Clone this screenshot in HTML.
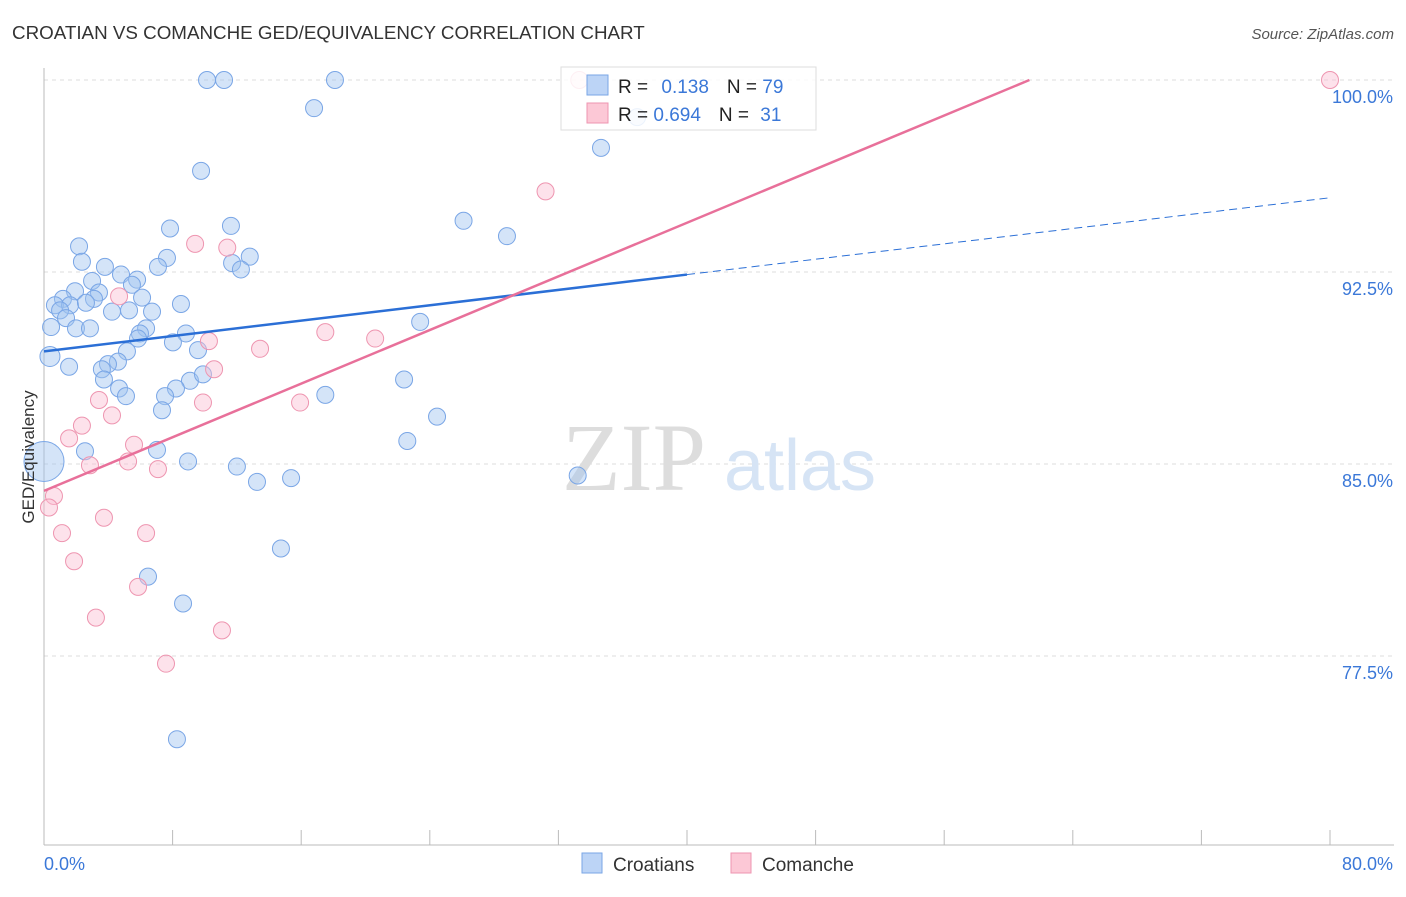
<!DOCTYPE html>
<html><head><meta charset="utf-8"><style>
body{margin:0;background:#fff;font-family:"Liberation Sans",sans-serif}
</style></head><body>
<svg id="c" width="1406" height="892" xmlns="http://www.w3.org/2000/svg">
<text x="12" y="39" font-size="18.8" fill="#333">CROATIAN VS COMANCHE GED/EQUIVALENCY CORRELATION CHART</text>
<text x="1394" y="39" font-size="15" fill="#555" font-style="italic" text-anchor="end">Source: ZipAtlas.com</text>
<g id="grid"></g>
<text x="634" y="490" font-size="96" fill="#ddd" font-family="Liberation Serif" text-anchor="middle">ZIP</text>
<text x="800" y="490" font-size="72" fill="#d6e4f5" text-anchor="middle">atlas</text>
<g id="pts"></g>
<g id="lines"></g>
<text transform="translate(34,457) rotate(-90)" font-size="17" fill="#333" text-anchor="middle">GED/Equivalency</text>
<text x="44" y="870" font-size="18" fill="#3b78d8">0.0%</text>
<text x="1393" y="870" font-size="18" fill="#3b78d8" text-anchor="end">80.0%</text>
<g>
<rect x="561" y="67" width="255" height="63" fill="rgba(255,255,255,0.85)" stroke="#ddd"/>
<rect x="587" y="75" width="21" height="20" fill="#bcd4f6" stroke="#7aa6e6"/>
<rect x="587" y="103" width="21" height="20" fill="#fcc8d6" stroke="#ee95b0"/>
<text x="618" y="93" font-size="19" fill="#222">R = <tspan fill="#3b78d8" dx="8">0.138</tspan><tspan dx="18" fill="#222">N = </tspan><tspan fill="#3b78d8">79</tspan></text>
<text x="618" y="121" font-size="19" fill="#222">R = <tspan fill="#3b78d8">0.694</tspan><tspan dx="18" fill="#222">N = </tspan><tspan fill="#3b78d8" dx="6">31</tspan></text>
</g>
<g>
<rect x="582" y="853" width="20" height="20" fill="#bcd4f6" stroke="#7aa6e6"/>
<text x="613" y="871" font-size="19" fill="#333">Croatians</text>
<rect x="731" y="853" width="20" height="20" fill="#fcc8d6" stroke="#ee95b0"/>
<text x="762" y="871" font-size="19" fill="#333">Comanche</text>
</g>
</svg>
<script>
const blueX=[10.14,11.2,18.1,16.8,34.65,9.77,26.1,28.8,7.84,11.63,2.18,2.36,3.79,4.79,5.79,2.99,7.65,7.09,12.8,11.7,12.25,5.47,1.93,3.42,1.18,3.11,6.1,0.68,1.62,2.61,8.52,1.0,4.23,5.29,6.72,1.37,0.44,1.99,2.86,6.35,5.97,5.85,8.83,8.02,23.4,9.58,5.16,0.37,1.56,4.6,3.98,3.6,3.73,9.08,9.89,8.21,4.67,5.1,7.53,7.34,17.5,22.4,24.45,22.6,2.55,7.03,8.96,0.0,12.0,13.25,15.37,33.2,14.74,6.47,8.65,8.27,36.9];
const blueY=[100,100,100,98.9,97.35,96.45,94.5,93.9,94.2,94.3,93.5,92.9,92.7,92.4,92.2,92.15,93.05,92.7,93.1,92.85,92.6,92.0,91.75,91.7,91.45,91.45,91.5,91.2,91.2,91.3,91.25,91.0,90.95,91.0,90.95,90.7,90.35,90.3,90.3,90.3,90.1,89.9,90.1,89.75,90.55,89.45,89.4,89.2,88.8,89.0,88.9,88.7,88.3,88.25,88.5,87.95,87.95,87.65,87.65,87.1,87.7,88.3,86.85,85.9,85.5,85.55,85.1,85.1,84.9,84.3,84.45,84.55,81.7,80.6,79.55,74.25,98.55];
const pinkX=[33.3,80,31.2,9.4,11.4,4.67,17.5,20.6,10.26,13.44,10.58,3.42,9.89,15.93,2.36,4.23,1.56,5.6,5.23,2.86,7.09,0.62,0.31,3.73,1.12,6.35,1.87,5.85,3.23,11.07,7.59];
const pinkY=[100,100,95.65,93.6,93.45,91.55,90.15,89.9,89.8,89.5,88.7,87.5,87.4,87.4,86.5,86.9,86.0,85.75,85.1,84.95,84.8,83.75,83.3,82.9,82.3,82.3,81.2,80.2,79.0,78.5,77.2];
const yTicks=[100,92.5,85,77.5];
const yTickLabels=["100.0%","92.5%","85.0%","77.5%"];
const blueTrend=[[0,89.4],[40,92.4],[80,95.4]];
const pinkTrend=[[0,83.95],[61.3,100]];
const X=v=>44+v*16.075, Y=v=>80+(100-v)*25.6;
const NS="http://www.w3.org/2000/svg";
function mk(t,a,p){const e=document.createElementNS(NS,t);for(const k in a)e.setAttribute(k,a[k]);p.appendChild(e);return e;}
const g=document.getElementById('grid');
yTicks.forEach((t,i)=>{const l=mk('line',{x1:44,x2:1394,y1:Y(t),y2:Y(t),stroke:'#ddd','stroke-dasharray':'4 4'},g);


const tx=mk('text',{x:1393,y:Y(t)+23,'font-size':18,fill:'#3b78d8','text-anchor':'end'},g);tx.textContent=yTickLabels[i];

});
const ax=mk('line',{x1:44,x2:44,y1:68,y2:845,stroke:'#bbb'},g);


const bx=mk('line',{x1:44,x2:1394,y1:845,y2:845,stroke:'#bbb'},g);


for(let i=0;i<=10;i++){const t=mk('line',{x1:X(i*8),x2:X(i*8),y1:830,y2:845,stroke:'#bbb'},g);

}
const p=document.getElementById('pts');
blueX.forEach((v,i)=>{const r=(v===0&&blueY[i]<86)?20:(v<0.5&&blueY[i]<89.5)?10:8.5;
const c=mk('circle',{cx:X(v),cy:Y(blueY[i]),r:r,fill:'rgba(160,195,240,0.45)',stroke:'#7aa6e6','stroke-width':1},p);

});
pinkX.forEach((v,i)=>{const c=mk('circle',{cx:X(v),cy:Y(pinkY[i]),r:8.5,fill:'rgba(250,190,210,0.45)',stroke:'#ee95b0','stroke-width':1},p);

});
const L=document.getElementById('lines');
const b1=mk('line',{x1:X(blueTrend[0][0]),y1:Y(blueTrend[0][1]),x2:X(blueTrend[1][0]),y2:Y(blueTrend[1][1]),stroke:'#2b6fd6','stroke-width':2.5},L);


const b2=mk('line',{x1:X(blueTrend[1][0]),y1:Y(blueTrend[1][1]),x2:X(blueTrend[2][0]),y2:Y(blueTrend[2][1]),stroke:'#2b6fd6','stroke-width':1,'stroke-dasharray':'8 5'},L);


const p1=mk('line',{x1:X(pinkTrend[0][0]),y1:Y(pinkTrend[0][1]),x2:X(pinkTrend[1][0]),y2:Y(pinkTrend[1][1]),stroke:'#e8709a','stroke-width':2.5},L);


</script>
</body></html>
